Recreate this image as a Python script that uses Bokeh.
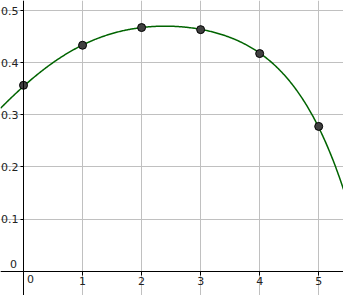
import numpy as np
from bokeh.plotting import figure
from bokeh.models import FixedTicker
from bokeh.core.properties import value
from bokeh.embed import file_html
from bokeh.resources import INLINE

# data points
x_pts = [0, 1, 2, 3, 4, 5]
y_pts = [0.357, 0.434, 0.468, 0.464, 0.418, 0.278]
# curve positions
curve_x = [-0.39, 0, 0.57, 1, 2, 2.49, 3, 3.51, 4, 4.525, 4.75, 5, 5.42]
curve_y = [0.312, 0.357, 0.405, 0.434, 0.468, 0.4715, 0.464, 0.4496, 0.418, 0.36, 0.328, 0.278, 0.156]
x_ticks = [1, 2, 3, 4, 5]
y_ticks = [0.1, 0.2, 0.3, 0.4, 0.5]
grid_x = [0, 1, 2, 3, 4, 5]
grid_y = [0, 0.1, 0.2, 0.3, 0.4, 0.5]

p = figure(width=343, height=295, output_backend="svg", toolbar_location=None,
           x_range=(-0.39, 5.42), y_range=(-0.047, 0.520), min_border=0)
p.outline_line_color = None
p.background_fill_color = "white"

# smooth the read curve positions
coef = np.polyfit(curve_x, curve_y, 5)
xc = np.linspace(curve_x[0], curve_x[-1], 400)
yc = np.polyval(coef, xc)

p.xgrid.ticker = FixedTicker(ticks=grid_x)
p.ygrid.ticker = FixedTicker(ticks=grid_y)
p.grid.grid_line_color = "#c0c0c0"
p.grid.grid_line_width = 1

for ax in (p.xaxis[0], p.yaxis[0]):
    ax.fixed_location = 0
    ax.axis_line_color = "black"
    ax.axis_line_width = 1
    ax.major_tick_line_color = "black"
    ax.minor_tick_line_color = None
    ax.major_label_text_font = "DejaVu Sans"
    ax.major_label_text_font_size = "11px"
    ax.major_label_text_color = "#222222"
    ax.major_tick_in = 0

p.xaxis.ticker = FixedTicker(ticks=x_ticks)
p.yaxis.ticker = FixedTicker(ticks=y_ticks)
p.xaxis.major_tick_out = 4
p.yaxis.major_tick_out = 3
p.xaxis.major_label_standoff = 2
p.yaxis.major_label_standoff = 2

p.line(xc, yc, line_color="#006400", line_width=1.5)
p.scatter(x_pts, y_pts, size=8, fill_color="#404040", line_color="black", line_width=1)

# zero labels
p.text(x=[0], y=[0], text=["0"], text_font=value("DejaVu Sans"), text_font_size="11px",
       text_color="#222222", x_offset=-10, y_offset=-3, text_align="center", text_baseline="bottom")
p.text(x=[0], y=[0], text=["0"], text_font=value("DejaVu Sans"), text_font_size="11px",
       text_color="#222222", x_offset=7, y_offset=4, text_align="center", text_baseline="top")

open("out.html", "w").write(file_html(p, INLINE))
